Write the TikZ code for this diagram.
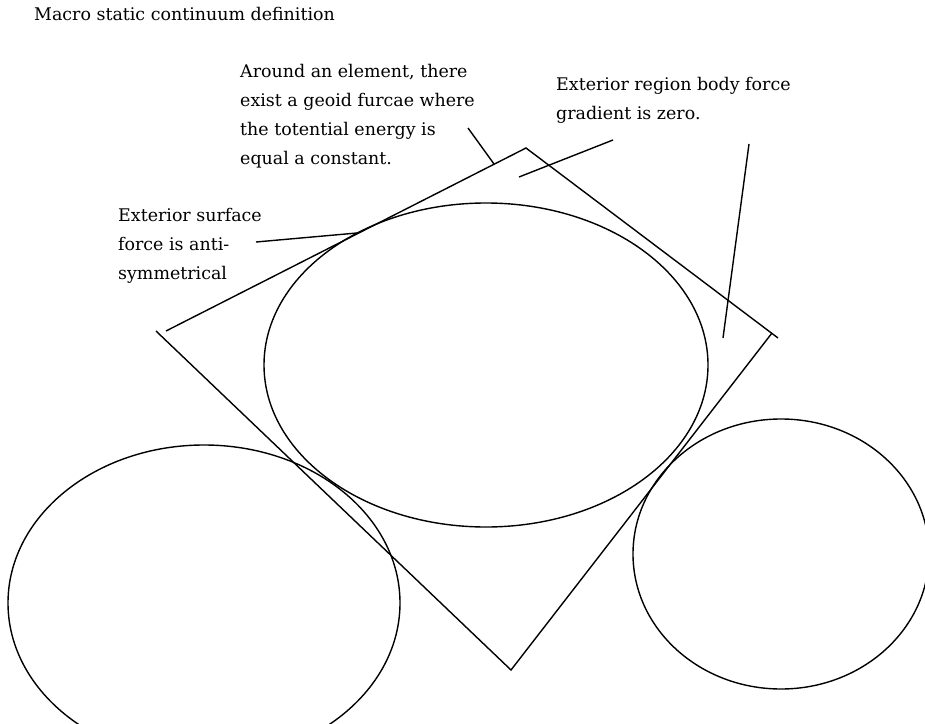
\documentclass[tikz,border=0pt]{standalone}
\usepackage{fontspec}
\setmainfont{DejaVu Serif}
\begin{document}
\begin{tikzpicture}[x=1bp,y=-1bp,
  ln/.style={line width=1.4bp,black},
  txt/.style={anchor=base west,inner sep=0pt,font=\fontsize{17.5}{29}\selectfont}]
\useasboundingbox (0,0) rectangle (925,724);
\clip (0,0) rectangle (925,724);
% title
\node[txt] (title) at (34,21) {Macro static continuum definition};
% text block 1
\node[txt] (a1) at (240,78) {Around an element, there};
\node[txt] (a2) at (240,107) {exist a geoid furcae where};
\node[txt] (a3) at (240,136) {the totential energy is};
\node[txt] (a4) at (240,165) {equal a constant.};
% text block 2
\node[txt] (b1) at (556,91) {Exterior region body force};
\node[txt] (b2) at (556,120) {gradient is zero.};
% text block 3
\node[txt] (c1) at (118,221) {Exterior surface};
\node[txt] (c2) at (118,250) {force is anti-};
\node[txt] (c3) at (118,279) {symmetrical};
% square (rotated)
\coordinate (sqT) at (526,148);
\coordinate (sqR) at (772,333);
\coordinate (sqRx) at (778,338);
\coordinate (sqB) at (511,670);
\coordinate (sqL1) at (166,331);
\coordinate (sqL2) at (156,331);
\draw[ln] (sqL1) -- (sqT) -- (sqRx);
\draw[ln] (sqR) -- (sqB) -- (sqL2);
% ellipses
\draw[ln] (486,365) ellipse [x radius=222, y radius=162];
\draw[ln] (204,603) ellipse [x radius=196, y radius=158];
\draw[ln] (781,554) ellipse [x radius=148, y radius=135];
% pointer lines
\coordinate (pa1) at (468,128);
\coordinate (pa2) at (494,164);
\draw[ln] (pa1) -- (pa2);
\coordinate (pb1) at (613,140);
\coordinate (pb2) at (519,177);
\draw[ln] (pb1) -- (pb2);
\coordinate (pc1) at (749,144);
\coordinate (pc2) at (723,338);
\draw[ln] (pc1) -- (pc2);
\coordinate (pd1) at (256,242);
\coordinate (pd2) at (357,233);
\draw[ln] (pd1) -- (pd2);
\end{tikzpicture}
\end{document}
